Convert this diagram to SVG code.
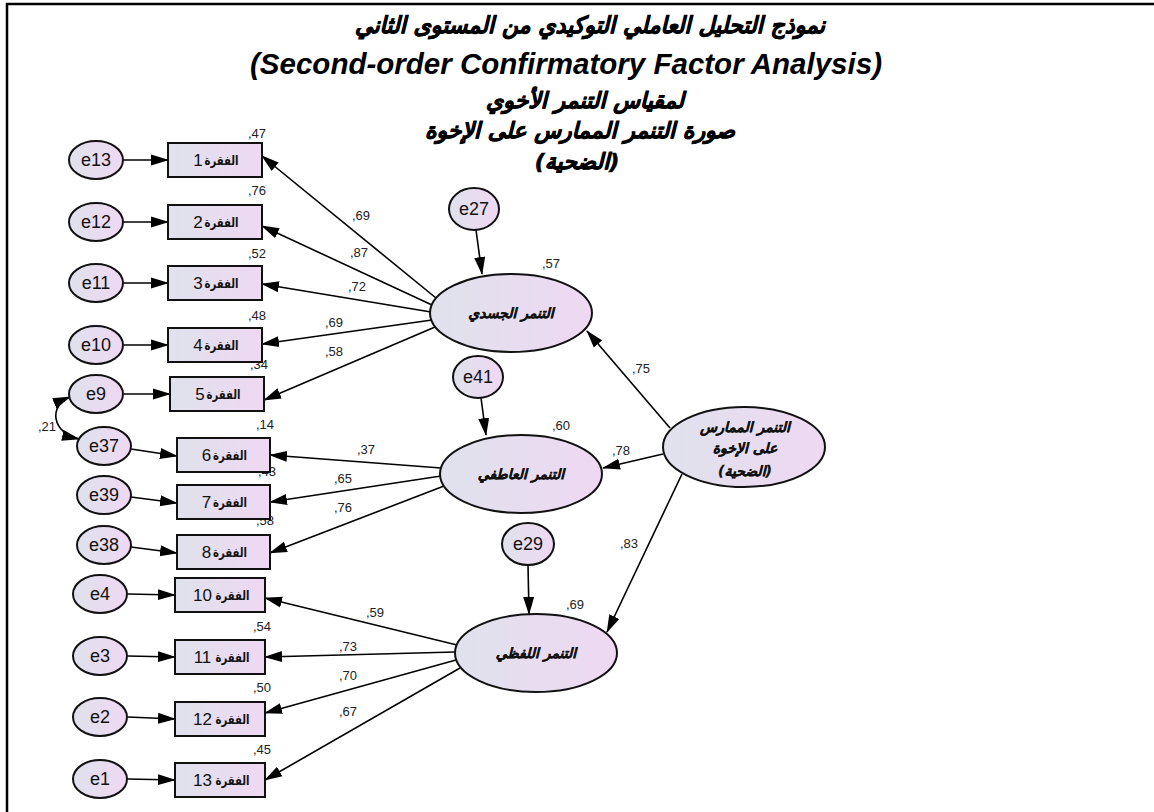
<svg xmlns="http://www.w3.org/2000/svg" width="1154" height="812" viewBox="0 0 1154 812">
<defs>
<linearGradient id="g" x1="0" y1="0" x2="1" y2="0">
<stop offset="0" stop-color="#dfe2ec"/>
<stop offset="1" stop-color="#efd8f3"/>
</linearGradient>
<marker id="ah" markerUnits="userSpaceOnUse" markerWidth="18" markerHeight="12" refX="17" refY="5.5" orient="auto-start-reverse" viewBox="0 0 18 11">
<path d="M0,0 L18,5.5 L0,11 z" fill="#000"/>
</marker>
<style>
.n{fill:url(#g);stroke:#111;stroke-width:2}
.c{stroke:#000;stroke-width:1.6;fill:none;marker-end:url(#ah)}
.et{font-family:"Liberation Sans",Arial,sans-serif;font-size:18px;text-anchor:middle;fill:#111}
.num{font-family:"Liberation Sans",Arial,sans-serif;font-size:13px;fill:#222}
.bd{font-family:"Liberation Sans",Arial,sans-serif;font-size:17px;text-anchor:middle;fill:#111}
.ar{font-family:"DejaVu Sans",sans-serif;font-size:12.5px;font-weight:bold;text-anchor:middle;fill:#111}
.fa{font-family:"DejaVu Sans",sans-serif;font-size:14px;font-weight:bold;font-style:italic;text-anchor:middle;fill:#111;stroke:#111;stroke-width:0.3}
.ti{font-family:"DejaVu Sans",sans-serif;font-weight:bold;font-style:italic;text-anchor:middle;fill:#000;stroke:#000;stroke-width:0.7}
.en{font-family:"Liberation Sans",Arial,sans-serif;font-weight:bold;font-style:italic;font-size:29px;text-anchor:middle;fill:#000}
</style>
</defs>
<rect width="1154" height="812" fill="#fff"/>
<path d="M7,812 L7,4 L1154,4" fill="none" stroke="#000" stroke-width="2.5"/>

<g id="title">
<text class="ti" x="590" y="33" font-size="23" textLength="470" lengthAdjust="spacingAndGlyphs">نموذج التحليل العاملي التوكيدي من المستوى الثاني</text>
<text class="en" x="566" y="74" textLength="632" lengthAdjust="spacingAndGlyphs">(Second-order Confirmatory Factor Analysis)</text>
<text class="ti" x="585" y="108" font-size="22">لمقياس  التنمر الأخوي</text>
<text class="ti" x="580" y="138" font-size="22">صورة التنمر الممارس على الإخوة</text>
<text class="ti" x="577" y="169" font-size="22">(الضحية)</text>
</g>

<g id="connectors">
<path class="c" d="M124,160 L168,160"/>
<path class="c" d="M124,222 L168,222"/>
<path class="c" d="M124,283 L168,283"/>
<path class="c" d="M124,345 L168,345"/>
<path class="c" d="M124,394 L170,394"/>
<path class="c" d="M131,449 L177,456"/>
<path class="c" d="M131,497 L177,503"/>
<path class="c" d="M131,547 L177,553"/>
<path class="c" d="M128,594 L175,595"/>
<path class="c" d="M128,656 L175,657"/>
<path class="c" d="M128,717 L175,719"/>
<path class="c" d="M128,779 L175,780"/>
<path class="c" d="M70,397 C48,406 52,433 79,439" style="marker-start:url(#ah)"/>
<path class="c" d="M436,298 L262,156"/>
<path class="c" d="M432,305 L262,226"/>
<path class="c" d="M431,312 L262,284"/>
<path class="c" d="M432,320 L262,344"/>
<path class="c" d="M435,327 L264,400"/>
<path class="c" d="M441,468 L270,455"/>
<path class="c" d="M441,476 L270,502"/>
<path class="c" d="M444,486 L270,553"/>
<path class="c" d="M457,645 L265,598"/>
<path class="c" d="M455,652 L265,657"/>
<path class="c" d="M456,660 L265,713"/>
<path class="c" d="M460,668 L265,780"/>
<path class="c" d="M476,230 L482,274"/>
<path class="c" d="M481,398 L486,435"/>
<path class="c" d="M528,565 L529,614"/>
<path class="c" d="M670,428 L587,331"/>
<path class="c" d="M663,454 L603,468"/>
<path class="c" d="M682,474 L607,632"/>
</g>

<g id="labels">
<text class="num" x="248" y="138">,47</text>
<text class="num" x="248" y="195">,76</text>
<text class="num" x="248" y="258">,52</text>
<text class="num" x="248" y="320">,48</text>
<text class="num" x="250" y="369">,34</text>
<text class="num" x="256" y="429">,14</text>
<text class="num" x="258" y="476">,43</text>
<text class="num" x="256" y="525">,58</text>
<text class="num" x="253" y="568">,35</text>
<text class="num" x="253" y="631">,54</text>
<text class="num" x="253" y="692">,50</text>
<text class="num" x="253" y="754">,45</text>
<text class="num" x="352" y="220">,69</text>
<text class="num" x="350" y="257">,87</text>
<text class="num" x="348" y="291">,72</text>
<text class="num" x="325" y="327">,69</text>
<text class="num" x="325" y="356">,58</text>
<text class="num" x="357" y="454">,37</text>
<text class="num" x="334" y="483">,65</text>
<text class="num" x="334" y="512">,76</text>
<text class="num" x="366" y="617">,59</text>
<text class="num" x="339" y="651">,73</text>
<text class="num" x="339" y="680">,70</text>
<text class="num" x="339" y="716">,67</text>
<text class="num" x="38" y="431">,21</text>
<text class="num" x="542" y="268">,57</text>
<text class="num" x="552" y="430">,60</text>
<text class="num" x="566" y="609">,69</text>
<text class="num" x="632" y="373">,75</text>
<text class="num" x="612" y="455">,78</text>
<text class="num" x="620" y="548">,83</text>
</g>

<g id="e13"><ellipse class="n" cx="96" cy="160" rx="27" ry="19"/><text class="et" x="96" y="166">e13</text></g>
<g id="e12"><ellipse class="n" cx="96" cy="222" rx="27" ry="19"/><text class="et" x="96" y="228">e12</text></g>
<g id="e11"><ellipse class="n" cx="96" cy="283" rx="27" ry="19"/><text class="et" x="96" y="289">e11</text></g>
<g id="e10"><ellipse class="n" cx="96" cy="345" rx="27" ry="19"/><text class="et" x="96" y="351">e10</text></g>
<g id="e9"><ellipse class="n" cx="96" cy="394" rx="27" ry="19"/><text class="et" x="96" y="400">e9</text></g>
<g id="e37"><ellipse class="n" cx="104" cy="446" rx="27" ry="19"/><text class="et" x="104" y="452">e37</text></g>
<g id="e39"><ellipse class="n" cx="104" cy="495" rx="27" ry="19"/><text class="et" x="104" y="501">e39</text></g>
<g id="e38"><ellipse class="n" cx="104" cy="545" rx="27" ry="19"/><text class="et" x="104" y="551">e38</text></g>
<g id="e4"><ellipse class="n" cx="100" cy="594" rx="27" ry="19"/><text class="et" x="100" y="600">e4</text></g>
<g id="e3"><ellipse class="n" cx="100" cy="656" rx="27" ry="19"/><text class="et" x="100" y="662">e3</text></g>
<g id="e2"><ellipse class="n" cx="100" cy="717" rx="27" ry="19"/><text class="et" x="100" y="723">e2</text></g>
<g id="e1"><ellipse class="n" cx="100" cy="779" rx="27" ry="19"/><text class="et" x="100" y="785">e1</text></g>

<g id="item1"><rect class="n" x="168" y="143" width="94" height="34"/><text class="bd" x="198" y="166">1</text><text class="ar" x="221.5" y="165" textLength="34" lengthAdjust="spacingAndGlyphs">الفقرة</text></g>
<g id="item2"><rect class="n" x="168" y="205" width="94" height="34"/><text class="bd" x="198" y="228">2</text><text class="ar" x="221.5" y="227" textLength="34" lengthAdjust="spacingAndGlyphs">الفقرة</text></g>
<g id="item3"><rect class="n" x="168" y="266" width="94" height="34"/><text class="bd" x="198" y="289">3</text><text class="ar" x="221.5" y="288" textLength="34" lengthAdjust="spacingAndGlyphs">الفقرة</text></g>
<g id="item4"><rect class="n" x="168" y="328" width="94" height="34"/><text class="bd" x="198" y="351">4</text><text class="ar" x="221.5" y="350" textLength="34" lengthAdjust="spacingAndGlyphs">الفقرة</text></g>
<g id="item5"><rect class="n" x="170" y="377" width="94" height="34"/><text class="bd" x="200" y="400">5</text><text class="ar" x="223.5" y="399" textLength="34" lengthAdjust="spacingAndGlyphs">الفقرة</text></g>
<g id="item6"><rect class="n" x="177" y="438" width="93" height="34"/><text class="bd" x="206.5" y="461">6</text><text class="ar" x="230" y="460" textLength="34" lengthAdjust="spacingAndGlyphs">الفقرة</text></g>
<g id="item7"><rect class="n" x="177" y="485" width="93" height="34"/><text class="bd" x="206.5" y="508">7</text><text class="ar" x="230" y="507" textLength="34" lengthAdjust="spacingAndGlyphs">الفقرة</text></g>
<g id="item8"><rect class="n" x="177" y="535" width="93" height="34"/><text class="bd" x="206.5" y="558">8</text><text class="ar" x="230" y="557" textLength="34" lengthAdjust="spacingAndGlyphs">الفقرة</text></g>
<g id="item10"><rect class="n" x="175" y="578" width="90" height="34"/><text class="bd" x="202.5" y="601">10</text><text class="ar" x="232.5" y="600" textLength="34" lengthAdjust="spacingAndGlyphs">الفقرة</text></g>
<g id="item11"><rect class="n" x="175" y="640" width="90" height="34"/><text class="bd" x="202.5" y="663">11</text><text class="ar" x="232.5" y="662" textLength="34" lengthAdjust="spacingAndGlyphs">الفقرة</text></g>
<g id="item12"><rect class="n" x="175" y="702" width="90" height="34"/><text class="bd" x="202.5" y="725">12</text><text class="ar" x="232.5" y="724" textLength="34" lengthAdjust="spacingAndGlyphs">الفقرة</text></g>
<g id="item13"><rect class="n" x="175" y="763" width="90" height="34"/><text class="bd" x="202.5" y="786">13</text><text class="ar" x="232.5" y="785" textLength="34" lengthAdjust="spacingAndGlyphs">الفقرة</text></g>

<g id="e27"><ellipse class="n" cx="474" cy="209" rx="25" ry="21"/><text class="et" x="474" y="215">e27</text></g>
<g id="e41"><ellipse class="n" cx="478" cy="377" rx="25" ry="21"/><text class="et" x="478" y="383">e41</text></g>
<g id="e29"><ellipse class="n" cx="528" cy="544" rx="26" ry="21"/><text class="et" x="528" y="550">e29</text></g>

<g id="physical"><ellipse class="n" cx="511" cy="313" rx="81" ry="39"/><text class="fa" x="511" y="318">التنمر الجسدي</text></g>
<g id="emotional"><ellipse class="n" cx="521" cy="474" rx="81" ry="39"/><text class="fa" x="521" y="479">التنمر العاطفي</text></g>
<g id="verbal"><ellipse class="n" cx="536" cy="653" rx="81" ry="39"/><text class="fa" x="536" y="658">التنمر اللفظي</text></g>
<g id="second"><ellipse class="n" cx="744" cy="447" rx="81" ry="40"/>
<text class="fa" x="745" y="432">التنمر الممارس</text>
<text class="fa" x="745" y="453">على الإخوة</text>
<text class="fa" x="745" y="476">(الضحية)</text></g>
</svg>
